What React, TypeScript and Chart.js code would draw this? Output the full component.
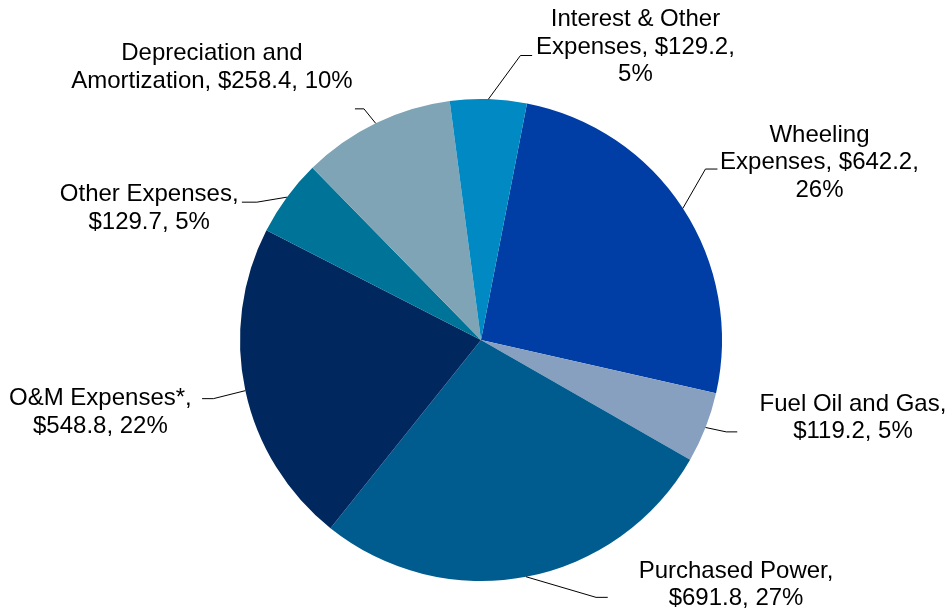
import React, { useEffect, useRef } from "react";
import { Chart, registerables } from "chart.js";

Chart.register(...registerables);

// ---- data ----
const categories = [
  "Wheeling Expenses",
  "Fuel Oil and Gas",
  "Purchased Power",
  "O&M Expenses*",
  "Other Expenses",
  "Depreciation and Amortization",
  "Interest & Other Expenses",
];
const values = [642.2, 119.2, 691.8, 548.8, 129.7, 258.4, 129.2];
const percents = [26, 5, 27, 22, 5, 10, 5];

// ---- styles ----
const colors = [
  "#003DA5",
  "#88A0BF",
  "#005C8F",
  "#00285F",
  "#007398",
  "#7FA4B6",
  "#0089C2",
];

// label placement relative to each slice's outer mid-point
// ex/ey: elbow offset, tail: horizontal segment, tx/ty: text centre offset, wrap: box width
const labelLayout = [
  { ex: 22.6, ey: -39.3, tail: 12, tx: 102, ty: -34, wrap: 210 },
  { ex: 20.7, ey: 4.4, tail: 11, tx: 115.7, ty: -28, wrap: 210 },
  { ex: 70, ey: 20.6, tail: 11.7, tx: 128.3, ty: -26, wrap: 210 },
  { ex: -32, ey: 8, tail: -11.3, tx: -101.7, ty: 0, wrap: 210 },
  { ex: -30, ey: 5, tail: -15, tx: -92.7, ty: -7.5, wrap: 210 },
  { ex: -11.7, ey: -14.4, tail: -9, tx: -143, ty: -55, wrap: 290 },
  { ex: 32, ey: -43.6, tail: 11.7, tx: 103.3, ty: -35.7, wrap: 210 },
];

const FONT = '24px "Liberation Sans", Arial, sans-serif';
const LINE_H = 27.5;

function wrapText(ctx: CanvasRenderingContext2D, text: string, maxW: number) {
  const words = text.split(" ");
  const lines: string[] = [];
  let cur = "";
  for (const w of words) {
    const test = cur ? cur + " " + w : w;
    if (cur && ctx.measureText(test).width > maxW) {
      lines.push(cur);
      cur = w;
    } else {
      cur = test;
    }
  }
  if (cur) lines.push(cur);
  return lines;
}

const outsideLabels = {
  id: "outsideLabels",
  afterDatasetsDraw(chart: any) {
    const ctx: CanvasRenderingContext2D = chart.ctx;
    const meta = chart.getDatasetMeta(0);
    ctx.save();
    ctx.font = FONT;
    ctx.fillStyle = "#000000";
    ctx.strokeStyle = "#000000";
    ctx.lineWidth = 1;
    ctx.textAlign = "center";
    ctx.textBaseline = "middle";
    meta.data.forEach((arc: any, i: number) => {
      const { x, y, startAngle, endAngle, outerRadius } = arc.getProps(
        ["x", "y", "startAngle", "endAngle", "outerRadius"],
        true
      );
      const mid = (startAngle + endAngle) / 2;
      const px = x + Math.cos(mid) * outerRadius;
      const py = y + Math.sin(mid) * outerRadius;
      const L = labelLayout[i];
      const bx = px + L.ex;
      const by = py + L.ey;
      const ex = bx + L.tail;
      ctx.beginPath();
      ctx.moveTo(px, py);
      ctx.lineTo(bx, by);
      ctx.lineTo(ex, by);
      ctx.stroke();
      const text = `${categories[i]}, $${values[i].toFixed(1)}, ${percents[i]}%`;
      const lines = wrapText(ctx, text, L.wrap);
      lines.forEach((ln, k) => {
        ctx.fillText(ln, ex + L.tx, by + L.ty + k * LINE_H);
      });
    });
    ctx.restore();
  },
};

export default function App() {
  const ref = useRef<HTMLCanvasElement | null>(null);

  useEffect(() => {
    if (!ref.current) return;
    const chart = new Chart(ref.current, {
      type: "pie",
      data: {
        labels: categories,
        datasets: [
          {
            data: values,
            backgroundColor: colors,
            borderWidth: 0,
          },
        ],
      },
      options: {
        responsive: false,
        animation: false,
        rotation: 11,
        layout: { padding: { left: 240, right: 229, top: 99, bottom: 32 } },
        plugins: {
          legend: { display: false },
          tooltip: { enabled: false },
        },
      },
      plugins: [outsideLabels],
    });
    return () => chart.destroy();
  }, []);

  return (
    <div style={{ position: "absolute", left: 0, top: 0, width: 951, height: 613, background: "#ffffff" }}>
      <canvas ref={ref} width={951} height={613} style={{ display: "block" }} />
    </div>
  );
}
